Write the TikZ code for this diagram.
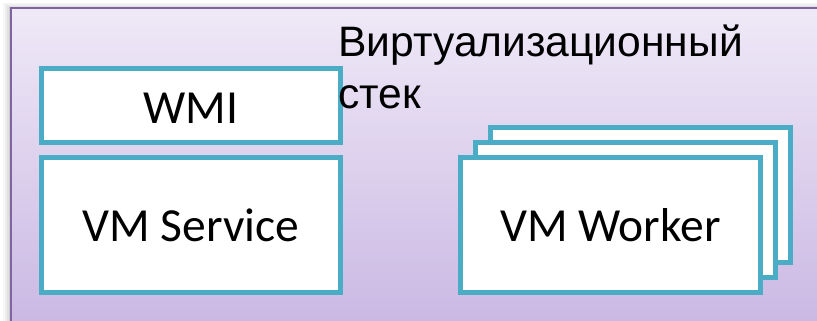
\documentclass[tikz,border=0pt]{standalone}
\usepackage{fontspec}
\setmainfont{Liberation Sans}
\newfontfamily\calibri{Carlito}
\definecolor{frame}{HTML}{8064A2}
\definecolor{toptint}{HTML}{EFE9F7}
\definecolor{bottint}{HTML}{C8B5E2}
\definecolor{teal}{HTML}{4BACC6}
\begin{document}
\begin{tikzpicture}[x=1pt,y=-1pt,
  box/.style={draw=teal, line width=5pt, fill=white, inner sep=0pt},
  boxtext/.style={font=\calibri\fontsize{47.5}{55}\selectfont, inner sep=0pt, anchor=base},
  title/.style={font=\fontsize{42.6}{51}\selectfont, inner sep=0pt, anchor=base west}]
\useasboundingbox (0,0) rectangle (817,321);
\clip (0,0) rectangle (817,321);
\fill[white] (0,0) rectangle (817,321);
% soft shadow of the panel
\foreach \d/\o in {8/0.03,6/0.04,4/0.05,2/0.07}{
  \fill[black, opacity=\o] (11-\d,8-\d*0.6) rectangle (830,340);
}
% panel
\shade[top color=toptint, bottom color=bottint] (11,8) rectangle (840,345);
\draw[frame, line width=2pt] (840,8) -- (11,8) -- (11,345);
% left stack
\node[box, minimum width=299pt, minimum height=74pt] (wmi) at (191,105.5) {};
\node[boxtext] (wmit) at ([yshift=-18pt]wmi.center) {WMI};
\node[box, minimum width=299pt, minimum height=135pt] (svc) at (191,225) {};
\node[boxtext] (svct) at ([yshift=-16.5pt]svc.center) {VM Service};
% worker stack
\node[box, minimum width=300pt, minimum height=135pt] (w3) at (640.5,195) {};
\node[box, minimum width=300pt, minimum height=135pt] (w2) at (625.5,210) {};
\node[box, minimum width=300pt, minimum height=135pt] (w1) at (610.5,225) {};
\node[boxtext] (w1t) at ([yshift=-16.5pt]w1.center) {VM Worker};
% title
\node[title] (t1) at (338,57) {Виртуализационный};
\node[title] (t2) at (338,108) {стек};
\end{tikzpicture}
\end{document}
